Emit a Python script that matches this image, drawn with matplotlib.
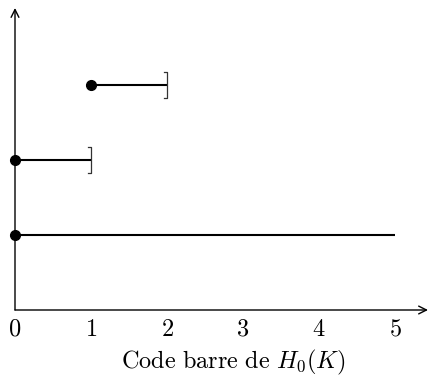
import matplotlib
matplotlib.use('Agg')
import matplotlib.pyplot as plt

plt.rcParams['mathtext.fontset'] = 'cm'
plt.rcParams['font.family'] = 'serif'
plt.rcParams['font.serif'] = ['DejaVu Serif']

# barcode intervals of H_0(K): (birth, death, closed at death?)
births = [0, 0, 1]
deaths = [5, 1, 2]
closed_end = [False, True, True]
levels = [1, 2, 3]
ticks = [0, 1, 2, 3, 4, 5]

fig = plt.figure(figsize=(4.29, 3.83), dpi=100)
W, H = 429, 383
ax = fig.add_axes([15 / W, (H - 310) / H, (428 - 15) / W, (310 - 8) / H])
ax.set_xlim(0, (428 - 15) / 76)
ax.set_ylim(0, (310 - 8) / 75)
for s in ax.spines.values():
    s.set_visible(False)
ax.set_xticks([])
ax.set_yticks([])

# axes arrows
ax.annotate('', xy=(1, 0), xytext=(0, 0), xycoords='axes fraction',
            arrowprops=dict(arrowstyle='->', lw=1.0, color='black',
                            shrinkA=0, shrinkB=0, mutation_scale=14))
ax.annotate('', xy=(0, 1), xytext=(0, 0), xycoords='axes fraction',
            arrowprops=dict(arrowstyle='->', lw=1.0, color='black',
                            shrinkA=0, shrinkB=0, mutation_scale=14))

for b, d, c, y in zip(births, deaths, closed_end, levels):
    ax.plot([b, d], [y, y], color='black', lw=1.5, solid_capstyle='butt', zorder=3)
    ax.plot(b, y, 'o', color='black', ms=7, zorder=4, clip_on=False)
    if c:
        h = 0.17
        ax.plot([d - 0.04, d, d, d - 0.04], [y + h, y + h, y - h, y - h],
                color='#333333', lw=0.9, zorder=3)

for t in ticks:
    ax.text(t, -0.26, '$%d$' % t, ha='center', va='center', fontsize=17.5)

ax.text(2.87, -0.70, r'$\mathrm{Code\ barre\ de\ }H_0(K)$', ha='center', va='center',
        fontsize=17.5)

fig.savefig('out.png', dpi=100)
